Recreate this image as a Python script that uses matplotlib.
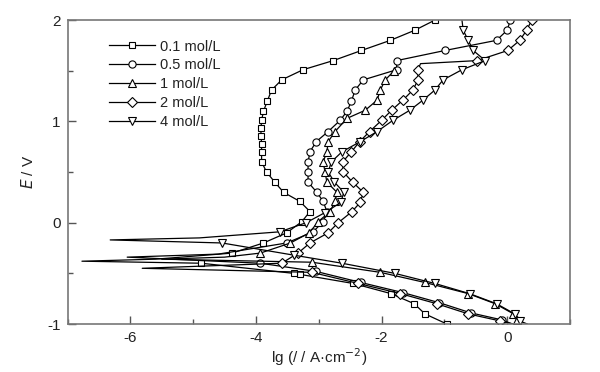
import matplotlib
matplotlib.use("Agg")
import matplotlib.pyplot as plt
from matplotlib.ticker import MultipleLocator

plt.rcParams['font.family'] = ['Liberation Sans', 'DejaVu Sans']
plt.rcParams['axes.unicode_minus'] = False

labels = ["0.1 mol/L", "0.5 mol/L", "1 mol/L", "2 mol/L", "4 mol/L"]
markers = ["s", "o", "^", "D", "v"]

# series: (lg i, E) from cathodic end (E=-1) to anodic end (E=2)
lg_01 = [-0.96, -1.31, -1.48, -1.85, -2.45, -3.30, -3.40, -4.87, -6.77, -5.6, -4.38, -3.88, -3.51, -3.27,
         -3.14, -3.30, -3.56, -3.70, -3.83, -3.91, -3.91, -3.91, -3.92, -3.92, -3.91, -3.88, -3.82, -3.75,
         -3.59, -3.25, -2.77, -2.32, -1.86, -1.47, -1.15]
E_01 = [-1.00, -0.90, -0.80, -0.70, -0.60, -0.51, -0.50, -0.40, -0.38, -0.36, -0.30, -0.20, -0.10, 0.01,
        0.11, 0.21, 0.30, 0.40, 0.50, 0.60, 0.70, 0.78, 0.86, 0.93, 1.01, 1.10, 1.20, 1.31,
        1.41, 1.51, 1.60, 1.70, 1.80, 1.90, 2.00]
nomark_01 = [8, 9]

lg_05 = [0.08, -0.08, -0.58, -1.08, -1.66, -2.33, -3.05, -3.93, -6.05, -4.6, -3.51, -3.09, -2.93, -2.87,
         -2.93, -3.03, -3.17, -3.17, -3.17, -3.14, -3.04, -2.85, -2.66, -2.55, -2.48, -2.42, -2.29, -1.76,
         -1.76, -0.99, -0.17, 0.00, 0.05]
E_05 = [-1.00, -0.96, -0.89, -0.79, -0.69, -0.59, -0.48, -0.40, -0.34, -0.31, -0.20, -0.09, 0.01, 0.11,
        0.21, 0.30, 0.40, 0.50, 0.60, 0.70, 0.80, 0.90, 1.01, 1.10, 1.20, 1.31, 1.41, 1.51,
        1.60, 1.70, 1.80, 1.90, 2.00]
nomark_05 = [0, 8, 9]

lg_1 = [0.22, 0.15, 0.10, -0.19, -0.62, -1.31, -2.02, -3.11, -5.5, -4.5, -3.93, -3.45, -3.15, -3.01,
        -2.82, -2.74, -2.71, -2.87, -2.90, -2.93, -2.87, -2.85, -2.74, -2.55, -2.26, -2.07, -2.02, -1.94,
        -1.80]
E_1 = [-1.00, -0.96, -0.90, -0.80, -0.70, -0.59, -0.49, -0.39, -0.36, -0.34, -0.30, -0.20, -0.10, 0.01,
       0.11, 0.21, 0.30, 0.40, 0.50, 0.60, 0.70, 0.80, 0.90, 1.03, 1.11, 1.21, 1.31, 1.41,
       1.50]
nomark_1 = [0, 8, 9]

lg_2 = [0.10, -0.11, -0.62, -1.12, -1.70, -2.37, -3.11, -5.81, -3.59, -3.33, -3.14, -2.85, -2.69, -2.47,
        -2.34, -2.29, -2.46, -2.61, -2.62, -2.48, -2.35, -2.19, -2.00, -1.84, -1.66, -1.50, -1.42, -1.42,
        -1.38, -0.48, 0.01, 0.20, 0.31, 0.39]
E_2 = [-1.00, -0.97, -0.90, -0.80, -0.70, -0.60, -0.49, -0.45, -0.40, -0.30, -0.20, -0.10, 0.00, 0.11,
       0.20, 0.30, 0.40, 0.50, 0.60, 0.70, 0.80, 0.90, 1.01, 1.11, 1.21, 1.31, 1.41, 1.51,
       1.57, 1.60, 1.70, 1.80, 1.90, 2.00]
nomark_2 = [0, 7, 28]

lg_4 = [0.32, 0.20, 0.12, -0.17, -0.60, -1.15, -1.79, -2.63, -3.40, -4.54, -6.32, -4.9, -3.62, -3.20,
        -2.90, -2.65, -2.60, -2.75, -2.85, -2.80, -2.63, -2.34, -2.07, -1.82, -1.55, -1.34, -1.15, -1.02,
        -0.72, -0.35, -0.54, -0.62, -0.70, -0.72]
E_4 = [-1.00, -0.97, -0.90, -0.80, -0.70, -0.60, -0.50, -0.40, -0.32, -0.20, -0.17, -0.15, -0.09, 0.00,
       0.10, 0.20, 0.30, 0.40, 0.50, 0.60, 0.70, 0.80, 0.90, 1.01, 1.11, 1.21, 1.31, 1.41,
       1.51, 1.60, 1.70, 1.80, 1.90, 2.00]
nomark_4 = [0, 10, 11, 33]

series = [(lg_01, E_01, nomark_01), (lg_05, E_05, nomark_05), (lg_1, E_1, nomark_1),
          (lg_2, E_2, nomark_2), (lg_4, E_4, nomark_4)]

fig = plt.figure(figsize=(6.0, 3.72), dpi=100)
ax = fig.add_axes([0.1125, 0.129, 0.8375, 0.817])

sizes = {"s": 4.6, "o": 5.2, "^": 5.4, "D": 4.8, "v": 5.4}
for (x, y, nm), lab, mk in zip(series, labels, markers):
    idx = [i for i in range(len(x)) if i not in nm]
    ax.plot(x, y, color="black", lw=0.9, marker=mk, ms=sizes[mk], mfc="white",
            mec="black", mew=0.8, markevery=idx, label=lab)

ax.set_xlim(-7, 1)
ax.set_ylim(-1, 2)
ax.xaxis.set_major_locator(MultipleLocator(2))
ax.xaxis.set_minor_locator(MultipleLocator(1))
ax.yaxis.set_major_locator(MultipleLocator(1))
ax.yaxis.set_minor_locator(MultipleLocator(0.5))
ax.tick_params(which="both", direction="in", top=False, right=False, colors="#555555",
               labelcolor="#222222", labelsize=11, width=1.0)
ax.tick_params(which="major", length=6, pad=5)
ax.tick_params(which="minor", length=3.5)
for s in ax.spines.values():
    s.set_color("#777777")
    s.set_linewidth(1.2)

ax.set_xlabel("lg (/ / A·cm$^{-2}$)", fontsize=11, labelpad=1, color="#222222")
ax.set_ylabel("$E$ / V", fontsize=11, labelpad=8, color="#222222")

leg = ax.legend(loc="upper left", bbox_to_anchor=(0.07, 0.955), frameon=False, fontsize=10.5,
                handlelength=3.2, handletextpad=0.35, labelspacing=0.33, borderaxespad=0)
for t in leg.get_texts():
    t.set_color("#222222")

fig.savefig("out.png", dpi=100)
